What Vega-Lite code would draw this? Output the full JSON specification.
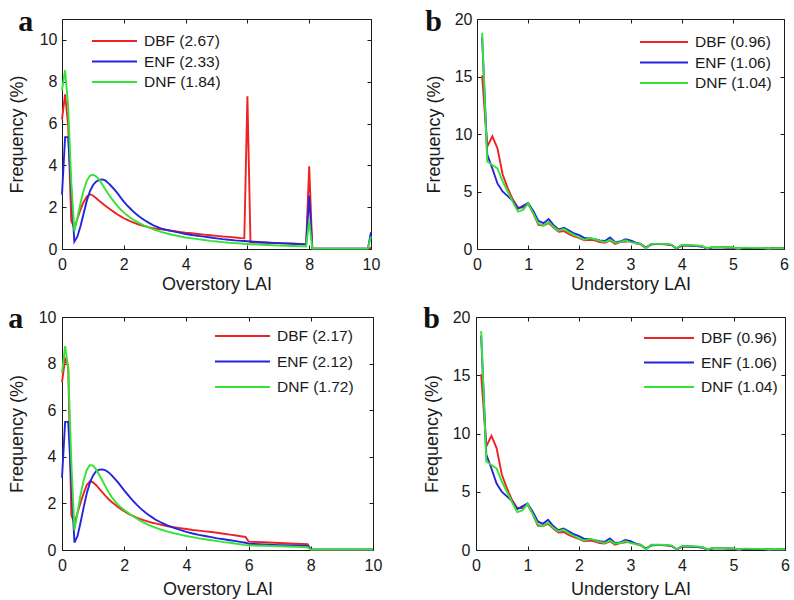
{
  "$schema": "https://vega.github.io/schema/vega-lite/v6.json",
  "background": "white",
  "padding": {"left": 7, "top": 6, "right": 0, "bottom": 0},
  "spacing": 9,
  "resolve": {"scale": {"x": "independent", "y": "independent", "color": "independent"}, "axis": {"x": "independent", "y": "independent"}, "legend": {"color": "independent"}},
  "vconcat": [
    {
      "spacing": 43,
      "resolve": {"scale": {"x": "independent", "y": "independent", "color": "independent"}, "axis": {"x": "independent", "y": "independent"}, "legend": {"color": "independent"}},
      "hconcat": [
        {
          "width": 309, "height": 230,
          "title": {"text": "a", "dx": 10, "offset": -18},
          "data": {"name": "o1"},
          "transform": [{"fold": ["DBF", "ENF", "DNF"], "as": ["s", "f"]}],
          "layer": [
            {
              "mark": {"type": "line", "strokeWidth": 1.9},
              "encoding": {
                "x": {"field": "x", "type": "quantitative", "scale": {"domain": [0, 10], "nice": false}, "axis": {"values": [0, 2, 4, 6, 8, 10], "title": "Overstory LAI", "labelPadding": 11, "titlePadding": 3}},
                "y": {"field": "f", "type": "quantitative", "scale": {"domain": [0, 11], "nice": false}, "axis": {"values": [0, 2, 4, 6, 8, 10], "title": "Frequency (%)", "labelPadding": 9, "titlePadding": 13}},
                "color": {"field": "s", "type": "nominal", "scale": {"domain": ["DBF", "ENF", "DNF"], "range": ["#ee2222", "#2424dc", "#36e236"]},
                  "legend": {"orient": "none", "legendX": 29, "legendY": 14, "symbolSize": 2025, "rowPadding": 3.5,
                    "labelExpr": "datum.label == 'DBF' ? 'DBF (2.67)' : datum.label == 'ENF' ? 'ENF (2.33)' : 'DNF (1.84)'"}}
              }
            },
            {
              "mark": {"type": "point", "opacity": 0},
              "encoding": {
                "x": {"field": "x", "type": "quantitative", "axis": {"orient": "top", "values": [0, 2, 4, 6, 8, 10], "labels": false, "title": null}},
                "y": {"field": "f", "type": "quantitative", "axis": {"orient": "right", "values": [0, 2, 4, 6, 8, 10], "labels": false, "title": null}}
              }
            }
          ],
          "resolve": {"axis": {"x": "independent", "y": "independent"}}
        },
        {
          "width": 307, "height": 230,
          "title": {"text": "b", "dx": 0, "offset": -26},
          "data": {"name": "u"},
          "transform": [{"fold": ["DBF", "ENF", "DNF"], "as": ["s", "f"]}],
          "layer": [
            {
              "mark": {"type": "line", "strokeWidth": 1.9},
              "encoding": {
                "x": {"field": "x", "type": "quantitative", "scale": {"domain": [0, 6], "nice": false}, "axis": {"values": [0, 1, 2, 3, 4, 5, 6], "title": "Understory LAI", "labelPadding": 11, "titlePadding": 3}},
                "y": {"field": "f", "type": "quantitative", "scale": {"domain": [0, 20], "nice": false}, "axis": {"values": [0, 5, 10, 15, 20], "title": "Frequency (%)", "labelPadding": 9, "titlePadding": 11}},
                "color": {"field": "s", "type": "nominal", "scale": {"domain": ["DBF", "ENF", "DNF"], "range": ["#ee2222", "#2424dc", "#36e236"]},
                  "legend": {"orient": "none", "legendX": 162, "legendY": 15, "symbolSize": 2304, "rowPadding": 3.5,
                    "labelExpr": "datum.label == 'DBF' ? 'DBF (0.96)' : datum.label == 'ENF' ? 'ENF (1.06)' : 'DNF (1.04)'"}}
              }
            },
            {
              "mark": {"type": "point", "opacity": 0},
              "encoding": {
                "x": {"field": "x", "type": "quantitative", "axis": {"orient": "top", "values": [0, 1, 2, 3, 4, 5, 6], "labels": false, "title": null}},
                "y": {"field": "f", "type": "quantitative", "axis": {"orient": "right", "values": [0, 5, 10, 15, 20], "labels": false, "title": null}}
              }
            }
          ],
          "resolve": {"axis": {"x": "independent", "y": "independent"}}
        }
      ]
    },
    {
      "spacing": 39,
      "resolve": {"scale": {"x": "independent", "y": "independent", "color": "independent"}, "axis": {"x": "independent", "y": "independent"}, "legend": {"color": "independent"}},
      "hconcat": [
        {
          "width": 311, "height": 233,
          "title": {"text": "a", "dx": 0, "offset": -25},
          "data": {"name": "o2"},
          "transform": [{"fold": ["DBF", "ENF", "DNF"], "as": ["s", "f"]}],
          "layer": [
            {
              "mark": {"type": "line", "strokeWidth": 1.9},
              "encoding": {
                "x": {"field": "x", "type": "quantitative", "scale": {"domain": [0, 10], "nice": false}, "axis": {"values": [0, 2, 4, 6, 8, 10], "title": "Overstory LAI", "labelPadding": 11, "titlePadding": 7}},
                "y": {"field": "f", "type": "quantitative", "scale": {"domain": [0, 10], "nice": false}, "axis": {"values": [0, 2, 4, 6, 8, 10], "title": "Frequency (%)", "labelPadding": 10, "titlePadding": 12}},
                "color": {"field": "s", "type": "nominal", "scale": {"domain": ["DBF", "ENF", "DNF"], "range": ["#ee2222", "#2424dc", "#36e236"]},
                  "legend": {"orient": "none", "legendX": 152, "legendY": 11, "symbolSize": 3025, "rowPadding": 8.5,
                    "labelExpr": "datum.label == 'DBF' ? 'DBF (2.17)' : datum.label == 'ENF' ? 'ENF (2.12)' : 'DNF (1.72)'"}}
              }
            },
            {
              "mark": {"type": "point", "opacity": 0},
              "encoding": {
                "x": {"field": "x", "type": "quantitative", "axis": {"orient": "top", "values": [0, 2, 4, 6, 8, 10], "labels": false, "title": null}},
                "y": {"field": "f", "type": "quantitative", "axis": {"orient": "right", "values": [0, 2, 4, 6, 8, 10], "labels": false, "title": null}}
              }
            }
          ],
          "resolve": {"axis": {"x": "independent", "y": "independent"}}
        },
        {
          "width": 309, "height": 233,
          "title": {"text": "b", "dx": 0, "offset": -25},
          "data": {"name": "u"},
          "transform": [{"fold": ["DBF", "ENF", "DNF"], "as": ["s", "f"]}],
          "layer": [
            {
              "mark": {"type": "line", "strokeWidth": 1.9},
              "encoding": {
                "x": {"field": "x", "type": "quantitative", "scale": {"domain": [0, 6], "nice": false}, "axis": {"values": [0, 1, 2, 3, 4, 5, 6], "title": "Understory LAI", "labelPadding": 11, "titlePadding": 7}},
                "y": {"field": "f", "type": "quantitative", "scale": {"domain": [0, 20], "nice": false}, "axis": {"values": [0, 5, 10, 15, 20], "title": "Frequency (%)", "labelPadding": 10, "titlePadding": 11}},
                "color": {"field": "s", "type": "nominal", "scale": {"domain": ["DBF", "ENF", "DNF"], "range": ["#ee2222", "#2424dc", "#36e236"]},
                  "legend": {"orient": "none", "legendX": 167, "legendY": 13, "symbolSize": 2500, "rowPadding": 7.5,
                    "labelExpr": "datum.label == 'DBF' ? 'DBF (0.96)' : datum.label == 'ENF' ? 'ENF (1.06)' : 'DNF (1.04)'"}}
              }
            },
            {
              "mark": {"type": "point", "opacity": 0},
              "encoding": {
                "x": {"field": "x", "type": "quantitative", "axis": {"orient": "top", "values": [0, 1, 2, 3, 4, 5, 6], "labels": false, "title": null}},
                "y": {"field": "f", "type": "quantitative", "axis": {"orient": "right", "values": [0, 5, 10, 15, 20], "labels": false, "title": null}}
              }
            }
          ],
          "resolve": {"axis": {"x": "independent", "y": "independent"}}
        }
      ]
    }
  ],
  "datasets": {
    "o1": [
      {"x": 0, "DBF": 6.2, "ENF": 2.6, "DNF": 7.6},
      {"x": 0.1, "DBF": 7.4, "ENF": 5.35, "DNF": 8.55},
      {"x": 0.2, "DBF": 5.9, "ENF": 5.35, "DNF": 6.8},
      {"x": 0.3, "DBF": 1.35, "ENF": 2.85, "DNF": 3.2},
      {"x": 0.4, "DBF": 1.0, "ENF": 0.35, "DNF": 0.85},
      {"x": 0.5, "DBF": 1.45, "ENF": 0.6, "DNF": 1.5},
      {"x": 0.6, "DBF": 1.9, "ENF": 1.1, "DNF": 2.2},
      {"x": 0.7, "DBF": 2.25, "ENF": 1.7, "DNF": 2.8},
      {"x": 0.8, "DBF": 2.5, "ENF": 2.3, "DNF": 3.25},
      {"x": 0.9, "DBF": 2.62, "ENF": 2.75, "DNF": 3.5},
      {"x": 1.0, "DBF": 2.56, "ENF": 3.05, "DNF": 3.55},
      {"x": 1.1, "DBF": 2.44, "ENF": 3.22, "DNF": 3.48},
      {"x": 1.2, "DBF": 2.31, "ENF": 3.3, "DNF": 3.33},
      {"x": 1.3, "DBF": 2.19, "ENF": 3.33, "DNF": 3.1},
      {"x": 1.4, "DBF": 2.07, "ENF": 3.28, "DNF": 2.86},
      {"x": 1.5, "DBF": 1.96, "ENF": 3.15, "DNF": 2.63},
      {"x": 1.6, "DBF": 1.85, "ENF": 3.0, "DNF": 2.42},
      {"x": 1.7, "DBF": 1.75, "ENF": 2.84, "DNF": 2.23},
      {"x": 1.8, "DBF": 1.65, "ENF": 2.66, "DNF": 2.05},
      {"x": 1.9, "DBF": 1.56, "ENF": 2.46, "DNF": 1.89},
      {"x": 2.0, "DBF": 1.47, "ENF": 2.27, "DNF": 1.75},
      {"x": 2.1, "DBF": 1.4, "ENF": 2.1, "DNF": 1.62},
      {"x": 2.2, "DBF": 1.33, "ENF": 1.95, "DNF": 1.51},
      {"x": 2.3, "DBF": 1.27, "ENF": 1.8, "DNF": 1.41},
      {"x": 2.4, "DBF": 1.21, "ENF": 1.67, "DNF": 1.32},
      {"x": 2.5, "DBF": 1.16, "ENF": 1.55, "DNF": 1.24},
      {"x": 2.6, "DBF": 1.12, "ENF": 1.45, "DNF": 1.17},
      {"x": 2.7, "DBF": 1.08, "ENF": 1.35, "DNF": 1.1},
      {"x": 2.8, "DBF": 1.04, "ENF": 1.26, "DNF": 1.04},
      {"x": 2.9, "DBF": 1.01, "ENF": 1.18, "DNF": 0.98},
      {"x": 3.0, "DBF": 0.98, "ENF": 1.1, "DNF": 0.92},
      {"x": 3.2, "DBF": 0.94, "ENF": 0.99, "DNF": 0.82},
      {"x": 3.4, "DBF": 0.9, "ENF": 0.91, "DNF": 0.74},
      {"x": 3.6, "DBF": 0.86, "ENF": 0.84, "DNF": 0.67},
      {"x": 3.8, "DBF": 0.82, "ENF": 0.78, "DNF": 0.61},
      {"x": 4.0, "DBF": 0.78, "ENF": 0.72, "DNF": 0.55},
      {"x": 4.2, "DBF": 0.75, "ENF": 0.67, "DNF": 0.51},
      {"x": 4.4, "DBF": 0.72, "ENF": 0.63, "DNF": 0.47},
      {"x": 4.6, "DBF": 0.69, "ENF": 0.59, "DNF": 0.43},
      {"x": 4.8, "DBF": 0.66, "ENF": 0.55, "DNF": 0.39},
      {"x": 5.0, "DBF": 0.63, "ENF": 0.51, "DNF": 0.36},
      {"x": 5.2, "DBF": 0.6, "ENF": 0.47, "DNF": 0.33},
      {"x": 5.4, "DBF": 0.58, "ENF": 0.44, "DNF": 0.3},
      {"x": 5.6, "DBF": 0.55, "ENF": 0.41, "DNF": 0.28},
      {"x": 5.8, "DBF": 0.52, "ENF": 0.39, "DNF": 0.26},
      {"x": 5.9, "DBF": 0.51, "ENF": 0.38, "DNF": 0.25},
      {"x": 6.0, "DBF": 7.3, "ENF": 0.37, "DNF": 0.24},
      {"x": 6.1, "DBF": 0.32, "ENF": 0.36, "DNF": 0.23},
      {"x": 6.5, "DBF": 0.3, "ENF": 0.32, "DNF": 0.2},
      {"x": 7.0, "DBF": 0.28, "ENF": 0.28, "DNF": 0.17},
      {"x": 7.5, "DBF": 0.25, "ENF": 0.25, "DNF": 0.14},
      {"x": 7.9, "DBF": 0.23, "ENF": 0.22, "DNF": 0.12},
      {"x": 8.0, "DBF": 3.95, "ENF": 2.55, "DNF": 1.35},
      {"x": 8.1, "DBF": 0.03, "ENF": 0.02, "DNF": 0.02},
      {"x": 9.0, "DBF": 0.02, "ENF": 0.02, "DNF": 0.02},
      {"x": 9.9, "DBF": 0.02, "ENF": 0.02, "DNF": 0.02},
      {"x": 10, "DBF": 0.05, "ENF": 0.8, "DNF": 0.6}
    ],
    "o2": [
      {"x": 0, "DBF": 7.2, "ENF": 3.1, "DNF": 7.6},
      {"x": 0.1, "DBF": 8.2, "ENF": 5.5, "DNF": 8.75},
      {"x": 0.2, "DBF": 7.9, "ENF": 5.5, "DNF": 7.8},
      {"x": 0.3, "DBF": 1.5, "ENF": 2.9, "DNF": 3.8},
      {"x": 0.4, "DBF": 1.15, "ENF": 0.32, "DNF": 0.85},
      {"x": 0.5, "DBF": 1.6, "ENF": 0.6, "DNF": 1.6},
      {"x": 0.6, "DBF": 2.05, "ENF": 1.2, "DNF": 2.4},
      {"x": 0.7, "DBF": 2.45, "ENF": 1.85, "DNF": 3.0},
      {"x": 0.8, "DBF": 2.8, "ENF": 2.45, "DNF": 3.45},
      {"x": 0.9, "DBF": 2.95, "ENF": 2.9, "DNF": 3.65},
      {"x": 1.0, "DBF": 2.9, "ENF": 3.2, "DNF": 3.62},
      {"x": 1.1, "DBF": 2.78, "ENF": 3.38, "DNF": 3.45},
      {"x": 1.2, "DBF": 2.62, "ENF": 3.45, "DNF": 3.22},
      {"x": 1.3, "DBF": 2.47, "ENF": 3.46, "DNF": 2.97},
      {"x": 1.4, "DBF": 2.32, "ENF": 3.42, "DNF": 2.72},
      {"x": 1.5, "DBF": 2.18, "ENF": 3.33, "DNF": 2.48},
      {"x": 1.6, "DBF": 2.06, "ENF": 3.2, "DNF": 2.27},
      {"x": 1.7, "DBF": 1.95, "ENF": 3.05, "DNF": 2.1},
      {"x": 1.8, "DBF": 1.85, "ENF": 2.9, "DNF": 1.95},
      {"x": 1.9, "DBF": 1.75, "ENF": 2.73, "DNF": 1.82},
      {"x": 2.0, "DBF": 1.66, "ENF": 2.56, "DNF": 1.72},
      {"x": 2.1, "DBF": 1.58, "ENF": 2.4, "DNF": 1.62},
      {"x": 2.2, "DBF": 1.51, "ENF": 2.24, "DNF": 1.52},
      {"x": 2.3, "DBF": 1.45, "ENF": 2.09, "DNF": 1.43},
      {"x": 2.4, "DBF": 1.39, "ENF": 1.95, "DNF": 1.35},
      {"x": 2.5, "DBF": 1.34, "ENF": 1.82, "DNF": 1.27},
      {"x": 2.6, "DBF": 1.29, "ENF": 1.7, "DNF": 1.2},
      {"x": 2.7, "DBF": 1.25, "ENF": 1.59, "DNF": 1.13},
      {"x": 2.8, "DBF": 1.21, "ENF": 1.49, "DNF": 1.07},
      {"x": 2.9, "DBF": 1.17, "ENF": 1.4, "DNF": 1.01},
      {"x": 3.0, "DBF": 1.14, "ENF": 1.31, "DNF": 0.96},
      {"x": 3.2, "DBF": 1.08, "ENF": 1.17, "DNF": 0.87},
      {"x": 3.4, "DBF": 1.02, "ENF": 1.05, "DNF": 0.79},
      {"x": 3.6, "DBF": 0.98, "ENF": 0.95, "DNF": 0.72},
      {"x": 3.8, "DBF": 0.94, "ENF": 0.86, "DNF": 0.66},
      {"x": 4.0, "DBF": 0.9, "ENF": 0.78, "DNF": 0.6},
      {"x": 4.2, "DBF": 0.86, "ENF": 0.71, "DNF": 0.55},
      {"x": 4.4, "DBF": 0.83, "ENF": 0.65, "DNF": 0.5},
      {"x": 4.6, "DBF": 0.8, "ENF": 0.6, "DNF": 0.46},
      {"x": 4.8, "DBF": 0.77, "ENF": 0.55, "DNF": 0.42},
      {"x": 5.0, "DBF": 0.74, "ENF": 0.5, "DNF": 0.38},
      {"x": 5.2, "DBF": 0.7, "ENF": 0.46, "DNF": 0.34},
      {"x": 5.4, "DBF": 0.66, "ENF": 0.42, "DNF": 0.31},
      {"x": 5.6, "DBF": 0.62, "ENF": 0.38, "DNF": 0.27},
      {"x": 5.8, "DBF": 0.58, "ENF": 0.33, "DNF": 0.23},
      {"x": 5.9, "DBF": 0.56, "ENF": 0.31, "DNF": 0.21},
      {"x": 6.0, "DBF": 0.36, "ENF": 0.27, "DNF": 0.2},
      {"x": 6.5, "DBF": 0.33, "ENF": 0.24, "DNF": 0.18},
      {"x": 7.0, "DBF": 0.3, "ENF": 0.21, "DNF": 0.16},
      {"x": 7.5, "DBF": 0.27, "ENF": 0.19, "DNF": 0.14},
      {"x": 7.9, "DBF": 0.25, "ENF": 0.17, "DNF": 0.12},
      {"x": 8.0, "DBF": 0.01, "ENF": 0.03, "DNF": 0.02},
      {"x": 9.0, "DBF": 0.0, "ENF": 0.02, "DNF": 0.02},
      {"x": 10, "DBF": 0.0, "ENF": 0.02, "DNF": 0.02}
    ],
    "u": [
      {"x": 0.1, "DBF": 15.1, "ENF": 18.4, "DNF": 18.8},
      {"x": 0.2, "DBF": 8.9, "ENF": 8.2, "DNF": 7.6},
      {"x": 0.3, "DBF": 9.8, "ENF": 7.0, "DNF": 7.3},
      {"x": 0.4, "DBF": 8.75, "ENF": 5.7, "DNF": 7.0},
      {"x": 0.5, "DBF": 6.5, "ENF": 5.0, "DNF": 5.9},
      {"x": 0.6, "DBF": 5.3, "ENF": 4.6, "DNF": 5.0},
      {"x": 0.7, "DBF": 4.3, "ENF": 4.2, "DNF": 4.1},
      {"x": 0.8, "DBF": 3.6, "ENF": 3.5, "DNF": 3.25},
      {"x": 0.9, "DBF": 3.6, "ENF": 3.75, "DNF": 3.4},
      {"x": 1.0, "DBF": 3.9, "ENF": 4.0, "DNF": 3.95},
      {"x": 1.1, "DBF": 3.1, "ENF": 3.3, "DNF": 3.1},
      {"x": 1.2, "DBF": 2.1, "ENF": 2.45, "DNF": 2.2},
      {"x": 1.3, "DBF": 2.05, "ENF": 2.25, "DNF": 2.05},
      {"x": 1.4, "DBF": 2.25, "ENF": 2.6, "DNF": 2.35},
      {"x": 1.5, "DBF": 1.85, "ENF": 2.05, "DNF": 1.9},
      {"x": 1.6, "DBF": 1.5, "ENF": 1.7, "DNF": 1.6},
      {"x": 1.7, "DBF": 1.55, "ENF": 1.85, "DNF": 1.75},
      {"x": 1.8, "DBF": 1.3, "ENF": 1.6, "DNF": 1.45},
      {"x": 1.9, "DBF": 1.1, "ENF": 1.35, "DNF": 1.2},
      {"x": 2.0, "DBF": 0.95, "ENF": 1.2, "DNF": 1.0},
      {"x": 2.1, "DBF": 0.75, "ENF": 0.95, "DNF": 0.8},
      {"x": 2.2, "DBF": 0.8, "ENF": 0.95, "DNF": 0.95},
      {"x": 2.3, "DBF": 0.75, "ENF": 0.85, "DNF": 0.85},
      {"x": 2.4, "DBF": 0.6, "ENF": 0.75, "DNF": 0.7},
      {"x": 2.5, "DBF": 0.55, "ENF": 0.7, "DNF": 0.6},
      {"x": 2.6, "DBF": 0.75, "ENF": 1.0, "DNF": 0.8},
      {"x": 2.7, "DBF": 0.45, "ENF": 0.6, "DNF": 0.55},
      {"x": 2.8, "DBF": 0.6, "ENF": 0.65, "DNF": 0.6},
      {"x": 2.9, "DBF": 0.65, "ENF": 0.85, "DNF": 0.75},
      {"x": 3.0, "DBF": 0.7, "ENF": 0.75, "DNF": 0.6},
      {"x": 3.1, "DBF": 0.5, "ENF": 0.55, "DNF": 0.5},
      {"x": 3.2, "DBF": 0.4, "ENF": 0.45, "DNF": 0.45},
      {"x": 3.3, "DBF": 0.1, "ENF": 0.1, "DNF": 0.05},
      {"x": 3.4, "DBF": 0.4, "ENF": 0.4, "DNF": 0.45},
      {"x": 3.5, "DBF": 0.42, "ENF": 0.42, "DNF": 0.45},
      {"x": 3.6, "DBF": 0.42, "ENF": 0.42, "DNF": 0.45},
      {"x": 3.7, "DBF": 0.4, "ENF": 0.4, "DNF": 0.42},
      {"x": 3.8, "DBF": 0.35, "ENF": 0.35, "DNF": 0.38},
      {"x": 3.9, "DBF": 0.05, "ENF": 0.05, "DNF": 0.05},
      {"x": 4.0, "DBF": 0.3, "ENF": 0.3, "DNF": 0.35},
      {"x": 4.1, "DBF": 0.3, "ENF": 0.3, "DNF": 0.33},
      {"x": 4.2, "DBF": 0.28, "ENF": 0.28, "DNF": 0.32},
      {"x": 4.3, "DBF": 0.25, "ENF": 0.25, "DNF": 0.3},
      {"x": 4.4, "DBF": 0.22, "ENF": 0.22, "DNF": 0.25},
      {"x": 4.5, "DBF": 0.03, "ENF": 0.03, "DNF": 0.05},
      {"x": 4.6, "DBF": 0.15, "ENF": 0.15, "DNF": 0.18},
      {"x": 4.7, "DBF": 0.15, "ENF": 0.15, "DNF": 0.17},
      {"x": 4.8, "DBF": 0.14, "ENF": 0.14, "DNF": 0.16},
      {"x": 4.9, "DBF": 0.13, "ENF": 0.13, "DNF": 0.15},
      {"x": 5.0, "DBF": 0.12, "ENF": 0.12, "DNF": 0.14},
      {"x": 5.1, "DBF": 0.02, "ENF": 0.02, "DNF": 0.03},
      {"x": 5.2, "DBF": 0.1, "ENF": 0.1, "DNF": 0.12},
      {"x": 5.3, "DBF": 0.1, "ENF": 0.1, "DNF": 0.12},
      {"x": 5.4, "DBF": 0.09, "ENF": 0.09, "DNF": 0.1},
      {"x": 5.5, "DBF": 0.08, "ENF": 0.08, "DNF": 0.1},
      {"x": 5.6, "DBF": 0.08, "ENF": 0.08, "DNF": 0.09},
      {"x": 5.7, "DBF": 0.03, "ENF": 0.03, "DNF": 0.03},
      {"x": 5.8, "DBF": 0.07, "ENF": 0.07, "DNF": 0.08},
      {"x": 5.9, "DBF": 0.06, "ENF": 0.06, "DNF": 0.07},
      {"x": 6.0, "DBF": 0.05, "ENF": 0.05, "DNF": 0.06}
    ]
  },
  "config": {
    "font": "Liberation Sans",
    "view": {"stroke": "#1a1a1a", "strokeWidth": 1},
    "axis": {"grid": false, "domain": false, "labelFlush": false, "tickSize": -4, "tickColor": "#1a1a1a", "tickWidth": 1,
      "labelFont": "Liberation Sans", "labelFontSize": 16, "labelColor": "#1a1a1a",
      "titleFont": "Liberation Sans", "titleFontSize": 18, "titleFontWeight": "normal", "titleColor": "#1a1a1a"},
    "legend": {"title": null, "direction": "vertical", "symbolType": "stroke", "symbolStrokeWidth": 2, "clipHeight": 16,
      "labelFont": "Liberation Sans", "labelFontSize": 15.5, "labelColor": "#1a1a1a", "labelOffset": 6, "padding": 0},
    "title": {"anchor": "start", "frame": "bounds", "font": "Liberation Serif", "fontSize": 30, "fontWeight": "bold", "color": "#111111", "baseline": "alphabetic"}
  }
}
